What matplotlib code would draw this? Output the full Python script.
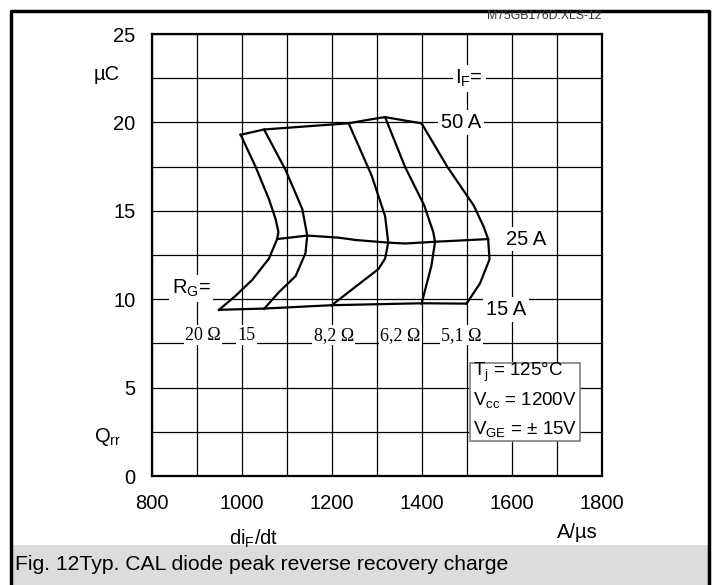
import matplotlib.pyplot as plt
from matplotlib.patches import Rectangle

plt.rcParams['font.family'] = ['Liberation Sans', 'DejaVu Sans']
plt.rcParams['mathtext.fontset'] = 'custom'
plt.rcParams['mathtext.rm'] = 'Liberation Sans'
plt.rcParams['mathtext.it'] = 'Liberation Sans:italic'

# Qrr vs diF/dt, one curve per gate resistor
rg20_x = [997, 1030, 1060, 1075, 1081, 1078, 1060, 1023, 986, 949]
rg20_y = [19.3, 17.5, 15.65, 14.5, 13.8, 13.4, 12.3, 11.1, 10.2, 9.4]
rg15_x = [1049, 1097, 1134, 1145, 1141, 1119, 1082, 1049]
rg15_y = [19.6, 17.3, 15.1, 13.6, 12.6, 11.3, 10.4, 9.45]
rg82_x = [1237, 1288, 1318, 1325, 1318, 1303, 1252, 1199]
rg82_y = [19.95, 17.0, 14.7, 13.2, 12.3, 11.7, 10.7, 9.65]
rg62_x = [1318, 1362, 1405, 1425, 1429, 1421, 1399]
rg62_y = [20.3, 17.5, 15.3, 13.8, 13.25, 11.9, 9.75]
rg51_x = [1399, 1456, 1515, 1537, 1547, 1550, 1529, 1499]
rg51_y = [19.95, 17.5, 15.3, 14.1, 13.4, 12.25, 10.9, 9.75]

# lines of constant forward current
if50_x = [997, 1049, 1237, 1281, 1318, 1363, 1399]
if50_y = [19.3, 19.6, 19.95, 20.15, 20.3, 20.1, 19.95]
if25_x = [1078, 1145, 1215, 1252, 1325, 1363, 1429, 1547]
if25_y = [13.4, 13.6, 13.48, 13.35, 13.2, 13.15, 13.25, 13.4]
if15_x = [949, 1049, 1199, 1399, 1499]
if15_y = [9.4, 9.47, 9.66, 9.77, 9.75]

rg_labels = ['20 Ω', '15', '8,2 Ω', '6,2 Ω', '5,1 Ω']
rg_label_x = [913, 1010, 1204, 1352, 1488]
if_labels = ['50 A', '25 A', '15 A']
if_label_x = [1487, 1631, 1587]
if_label_y = [20.0, 13.4, 9.4]

FS = 14.5

fig = plt.figure(figsize=(7.15, 5.85), dpi=100)
ax = fig.add_axes([152/715, 1 - 476/585, 450/715, 442/585])

ax.set_xlim(800, 1800)
ax.set_ylim(0, 25)
ax.set_xticks(range(800, 1801, 200))
ax.set_yticks(range(0, 26, 5))
ax.set_xticks(range(800, 1801, 100), minor=True)
ax.set_yticks([i * 2.5 for i in range(11)], minor=True)
ax.grid(True, which='both', color='black', lw=0.9)
ax.set_axisbelow(True)
ax.tick_params(which='both', length=0, labelsize=FS)
ax.tick_params(axis='x', pad=13)
ax.tick_params(axis='y', pad=12)
for s in ax.spines.values():
    s.set_linewidth(1.6)

for xs, ys in [(rg20_x, rg20_y), (rg15_x, rg15_y), (rg82_x, rg82_y),
               (rg62_x, rg62_y), (rg51_x, rg51_y),
               (if50_x, if50_y), (if25_x, if25_y), (if15_x, if15_y)]:
    ax.plot(xs, ys, color='black', lw=1.6, solid_joinstyle='round', zorder=3)

wbox = dict(facecolor='white', edgecolor='none', pad=2)
for lab, x, y in zip(if_labels, if_label_x, if_label_y):
    ax.text(x, y, lab, fontsize=FS, ha='center', va='center', bbox=wbox, zorder=4)
ax.text(1505, 22.5, r'I$_\mathrm{F}$=', fontsize=FS, ha='center', va='center',
        bbox=wbox, zorder=4)
ax.text(887, 10.6, r'R$_\mathrm{G}$=', fontsize=FS, ha='center', va='center',
        bbox=wbox, zorder=4)
for lab, x in zip(rg_labels, rg_label_x):
    ax.text(x, 7.95, lab, fontsize=13, family='Liberation Serif', ha='center',
            va='center', bbox=dict(facecolor='white', edgecolor='none', pad=1), zorder=4)

# conditions box
ax.add_patch(Rectangle((1507, 1.98), 244, 4.41, facecolor='white', edgecolor='#808080',
                       lw=1.2, zorder=4))
cond = [r'T$_\mathrm{j}$ = 125°C', r'V$_\mathrm{cc}$ = 1200V', r'V$_\mathrm{GE}$ = ± 15V']
cond_y = [5.85, 4.3, 2.65]
for t, y in zip(cond, cond_y):
    ax.text(1514, y, t, fontsize=13.5, ha='left', va='center', zorder=5)

fig.text(107/715, 1 - 75/585, 'µC', fontsize=FS, ha='center', va='center')
fig.text(108/715, 1 - 437/585, r'Q$_\mathrm{rr}$', fontsize=FS, ha='center', va='center')
fig.text(254/715, 1 - 539/585, r'di$_\mathrm{F}$/dt', fontsize=FS, ha='center', va='center')
fig.text(577/715, 1 - 532/585, 'A/µs', fontsize=FS, ha='center', va='center')
fig.text(602/715, 1 - 16/585, 'M75GB176D.XLS-12', fontsize=8.8, ha='right', va='center',
         color='#333333')

# caption band and outer frame
fig.patches.append(Rectangle((11/715, 0), 698/715, 40/585, transform=fig.transFigure,
                             facecolor='#dcdcdc', edgecolor='none'))
fig.text(15/715, 1 - 564/585, 'Fig. 12Typ. CAL diode peak reverse recovery charge',
         fontsize=15.2, ha='left', va='center')
frame_x = [11/715, 11/715, 709/715, 709/715]
frame_y = [0, 1 - 11/585, 1 - 11/585, 0]
fig.lines.append(plt.Line2D(frame_x, frame_y, transform=fig.transFigure,
                            color='black', lw=2.5))

fig.savefig('out.png', dpi=100)
